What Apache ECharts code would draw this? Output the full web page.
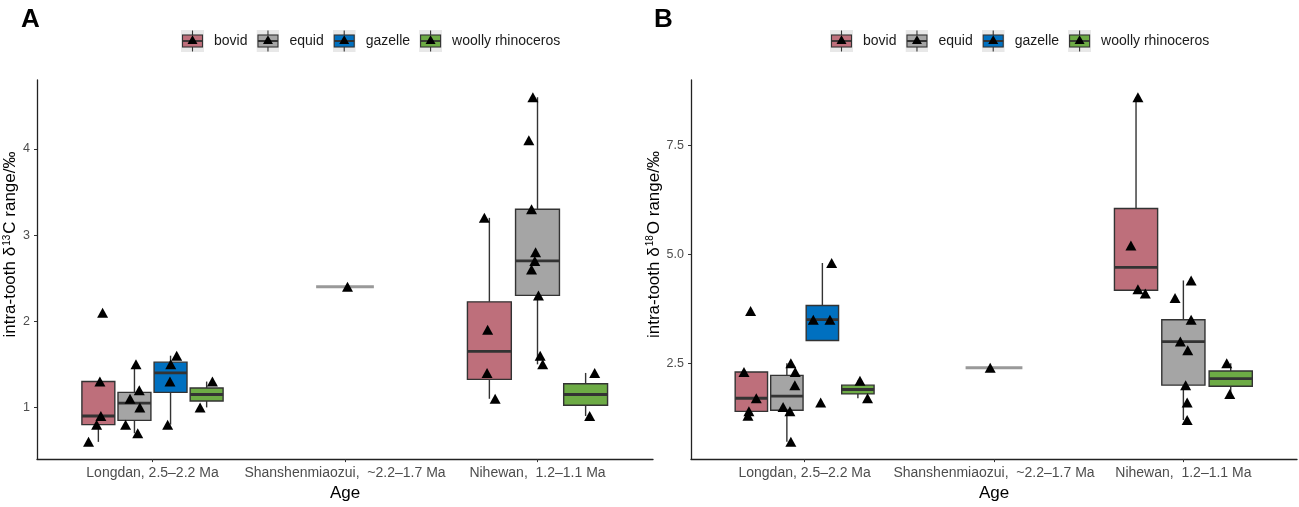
<!DOCTYPE html>
<html>
<head>
<meta charset="utf-8">
<script src="https://cdn.jsdelivr.net/npm/echarts@6/dist/echarts.min.js"></script>
<style>
html,body{margin:0;padding:0;background:#fff;}
#chart{width:1299px;height:507px;}
</style>
</head>
<body>
<div id="chart"></div>
<script>
// ---------- data ----------
const categories = ['Longdan, 2.5\u20132.2 Ma', 'Shanshenmiaozui,  ~2.2\u20131.7 Ma', 'Nihewan,  1.2\u20131.1 Ma'];
const species = ['bovid', 'equid', 'gazelle', 'woolly rhinoceros'];
const yTicksC = [1, 2, 3, 4];
const yTicksO = [2.5, 5.0, 7.5];

// box stats per category: [lower whisker, Q1, median, Q3, upper whisker]
const bovidBoxC   = [[0.6, 0.8, 0.9, 1.3, 1.3], null, [1.1, 1.325, 1.65, 2.225, 3.2]];
const equidBoxC   = [[0.7, 0.85, 1.05, 1.175, 1.5], [2.4, 2.4, 2.4, 2.4, 2.4], [1.5, 2.3, 2.7, 3.3, 4.6]];
const gazelleBoxC = [[0.8, 1.175, 1.4, 1.525, 1.6], null, null];
const rhinoBoxC   = [[1.0, 1.075, 1.15, 1.225, 1.3], null, [0.9, 1.025, 1.15, 1.275, 1.4]];

const bovidPtsC   = [[2.1, 1.3, 0.9, 0.8, 0.6], [], [3.2, 1.9, 1.4, 1.1]];
const equidPtsC   = [[1.5, 1.2, 1.1, 1.0, 0.8, 0.7], [2.4], [4.6, 4.1, 3.3, 2.8, 2.7, 2.6, 2.3, 1.6, 1.5]];
const gazellePtsC = [[1.6, 1.5, 1.3, 0.8], [], []];
const rhinoPtsC   = [[1.3, 1.0], [], [1.4, 0.9]];

const bovidBoxO   = [[1.3, 1.4, 1.7, 2.3, 2.3], null, [4.1, 4.175, 4.7, 6.05, 8.6]];
const equidBoxO   = [[0.7, 1.425, 1.75, 2.225, 2.5], [2.4, 2.4, 2.4, 2.4, 2.4], [1.2, 2.0, 3.0, 3.5, 4.4]];
const gazelleBoxO = [[3.025, 3.025, 3.5, 3.825, 4.8], null, null];
const rhinoBoxO   = [[1.7, 1.8, 1.9, 2.0, 2.1], null, [1.8, 1.975, 2.15, 2.325, 2.5]];

const bovidPtsO   = [[3.7, 2.3, 1.7, 1.4, 1.3], [], [8.6, 5.2, 4.2, 4.1]];
const equidPtsO   = [[2.5, 2.3, 2.0, 1.5, 1.4, 0.7], [2.4], [4.4, 4.0, 3.5, 3.0, 2.8, 2.0, 1.6, 1.2]];
const gazellePtsO = [[4.8, 3.5, 3.5, 1.6], [], []];
const rhinoPtsO   = [[2.1, 1.7], [], [2.5, 1.8]];

// horizontal jitter of the points (category units)
const bovidJitC   = [[0.022, 0.008, 0.013, -0.009, -0.051], [], [-0.026, -0.009, -0.012, 0.030]];
const equidJitC   = [[0.008, 0.025, -0.023, 0.028, -0.046, 0.017], [0.013], [-0.024, -0.045, -0.031, -0.010, -0.014, -0.031, 0.005, 0.014, 0.027]];
const gazelleJitC = [[0.032, 0.001, -0.003, -0.015], [], []];
const rhinoJitC   = [[0.030, -0.034], [], [0.047, 0.021]];
const bovidJitO   = [[-0.004, -0.039, 0.026, -0.013, -0.018], [], [0.010, -0.027, 0.010, 0.049]];
const equidJitO   = [[0.021, 0.044, 0.042, -0.020, 0.016, 0.021], [-0.02], [0.041, -0.044, 0.041, -0.016, 0.023, 0.012, 0.020, 0.020]];
const gazelleJitO = [[0.049, -0.048, 0.040, -0.009], [], []];
const rhinoJitO   = [[0.011, 0.051], [], [-0.021, -0.005]];

// ---------- styles ----------
const colors = ['#BE6F7B', '#A5A5A5', '#0070C0', '#6DAB45'];
const boxW = {1: 0.3, 2: 0.4, 3: 0.228, 4: 0.171};
const DODGE = 0.75;
const FONT = '"Liberation Sans", Arial, Helvetica, sans-serif';

const panels = [
  {boxes: [bovidBoxC, equidBoxC, gazelleBoxC, rhinoBoxC],
   pts: [bovidPtsC, equidPtsC, gazellePtsC, rhinoPtsC],
   jit: [bovidJitC, equidJitC, gazelleJitC, rhinoJitC]},
  {boxes: [bovidBoxO, equidBoxO, gazelleBoxO, rhinoBoxO],
   pts: [bovidPtsO, equidPtsO, gazellePtsO, rhinoPtsO],
   jit: [bovidJitO, equidJitO, gazelleJitO, rhinoJitO]}
];

function slotOf(boxes, s, c) {
  const present = boxes.map((b, i) => (b[c] ? i : -1)).filter(i => i >= 0);
  const n = present.length;
  const k = present.indexOf(s);
  return {off: (k - (n - 1) / 2) * DODGE / n, hw: boxW[n] / 2};
}

function keyIcon(color) {
  const svg = '<svg xmlns="http://www.w3.org/2000/svg" width="92" height="88" viewBox="0 0 23 22">' +
    '<rect width="23" height="22" fill="#E8E8E8"/>' +
    '<line x1="11.5" y1="0.5" x2="11.5" y2="21.5" stroke="#333" stroke-width="1.1"/>' +
    '<rect x="1.5" y="5" width="20" height="12" fill="' + color + '" stroke="#333" stroke-width="1.1"/>' +
    '<line x1="1.5" y1="11" x2="21.5" y2="11" stroke="#333" stroke-width="1.8"/>' +
    '<polygon points="11.5,5.3 16.5,14 6.5,14" fill="#000"/></svg>';
  return 'image://data:image/svg+xml;charset=utf-8,' + encodeURIComponent(svg);
}

function makeRender(color, slots) {
  return function (params, api) {
    const sl = slots[params.dataIndex];
    const xc = api.value(0) + sl.off;
    const lo = api.value(1), q1 = api.value(2), md = api.value(3), q3 = api.value(4), hi = api.value(5);
    const pc = api.coord([xc, md]);
    const pl = api.coord([xc - sl.hw, q3]);
    const pr = api.coord([xc + sl.hw, q1]);
    const plo = api.coord([xc, lo]);
    const phi = api.coord([xc, hi]);
    const stroke = '#333';
    const children = [];
    if (q3 > q1) {
      children.push({type: 'line', shape: {x1: pc[0], y1: pl[1], x2: pc[0], y2: phi[1]}, style: {stroke: stroke, lineWidth: 1.4}});
      children.push({type: 'line', shape: {x1: pc[0], y1: pr[1], x2: pc[0], y2: plo[1]}, style: {stroke: stroke, lineWidth: 1.4}});
      children.push({type: 'rect', shape: {x: pl[0], y: pl[1], width: pr[0] - pl[0], height: pr[1] - pl[1]},
        style: {fill: color, stroke: stroke, lineWidth: 1.4}});
      children.push({type: 'line', shape: {x1: pl[0], y1: pc[1], x2: pr[0], y2: pc[1]}, style: {stroke: stroke, lineWidth: 2.8}});
    } else {
      children.push({type: 'line', shape: {x1: pl[0], y1: pc[1], x2: pr[0], y2: pc[1]}, style: {stroke: '#999', lineWidth: 3}});
    }
    return {type: 'group', children: children};
  };
}

const series = [];
panels.forEach((p, pi) => {
  species.forEach((name, s) => {
    const data = [], slots = [];
    p.boxes[s].forEach((b, c) => {
      if (b) { data.push([c + 1].concat(b)); slots.push(slotOf(p.boxes, s, c)); }
    });
    series.push({
      type: 'custom', name: name, xAxisIndex: pi, yAxisIndex: pi, z: 2,
      renderItem: makeRender(colors[s], slots),
      encode: {x: 0, y: [1, 2, 3, 4, 5]},
      data: data
    });
  });
  species.forEach((name, s) => {
    const data = [];
    p.pts[s].forEach((vals, c) => {
      if (!vals.length) return;
      const sl = slotOf(p.boxes, s, c);
      vals.forEach((v, j) => data.push([c + 1 + sl.off + p.jit[s][c][j], v]));
    });
    series.push({
      type: 'scatter', name: name, xAxisIndex: pi, yAxisIndex: pi, z: 5,
      symbol: 'triangle', symbolSize: [11, 10],
      itemStyle: {color: '#000', opacity: 1},
      data: data
    });
  });
});

function xAxisCfg(gi) {
  return {
    type: 'value', gridIndex: gi, min: 0.4, max: 3.6,
    name: 'Age', nameLocation: 'middle', nameGap: 24,
    nameTextStyle: {fontFamily: FONT, fontSize: 17, color: '#000'},
    axisLine: {show: true, lineStyle: {color: '#222', width: 1.3}},
    axisTick: {show: true, length: 3, lineStyle: {color: '#333'}, customValues: [1, 2, 3]},
    axisLabel: {fontFamily: FONT, fontSize: 14, color: '#4D4D4D', margin: 7,
      customValues: [1, 2, 3], formatter: v => categories[Math.round(v) - 1] || ''},
    splitLine: {show: false}
  };
}
function yAxisCfg(gi, min, max, ticks, fmt, nameRich, nameGap) {
  return {
    type: 'value', gridIndex: gi, min: min, max: max,
    name: nameRich, nameLocation: 'middle', nameGap: nameGap, nameRotate: 90,
    nameTextStyle: {fontFamily: FONT, fontSize: 17, color: '#000', padding: [0, 0, 0, 50],
      rich: {a: {fontFamily: FONT, fontSize: 17, color: '#000'},
             s: {fontFamily: FONT, fontSize: 10, color: '#000', verticalAlign: 'top', padding: [0, 1, 0, 1]}}},
    axisLine: {show: true, lineStyle: {color: '#222', width: 1.3}},
    axisTick: {show: true, length: 3, lineStyle: {color: '#333'}, customValues: ticks},
    axisLabel: {fontFamily: FONT, fontSize: 12.5, color: '#4D4D4D', margin: 7,
      customValues: ticks, formatter: fmt},
    splitLine: {show: false}
  };
}

const legendData = species.map((n, i) => ({name: n, icon: keyIcon(colors[i])}));
function legendCfg(left) {
  return {
    left: left, top: 30, orient: 'horizontal', selectedMode: false,
    itemWidth: 23, itemHeight: 22, itemGap: 9, padding: 0,
    textStyle: {fontFamily: FONT, fontSize: 14, color: '#1a1a1a', padding: [0, 0, 0, 5]},
    data: legendData
  };
}

const option = {
  animation: false,
  backgroundColor: '#fff',
  title: [
    {text: 'A', left: 16, top: 2, textStyle: {fontFamily: FONT, fontSize: 26, fontWeight: 'bold', color: '#000'}},
    {text: 'B', left: 649, top: 2, textStyle: {fontFamily: FONT, fontSize: 26, fontWeight: 'bold', color: '#000'}}
  ],
  legend: [legendCfg(181), legendCfg(830)],
  grid: [
    {left: 37, right: 1299 - 653, top: 80, bottom: 44},
    {left: 691, right: 2, top: 80, bottom: 45}
  ],
  xAxis: [xAxisCfg(0), xAxisCfg(1)],
  yAxis: [
    yAxisCfg(0, 0.4, 4.8, yTicksC, v => String(v), '{a|intra-tooth \u03b4}{s|13}{a|C range/\u2030}', 16),
    yAxisCfg(1, 0.305, 8.995, yTicksO, v => v.toFixed(1), '{a|intra-tooth \u03b4}{s|18}{a|O range/\u2030}', 27)
  ],
  series: series
};

const chart = echarts.init(document.getElementById('chart'), null, {renderer: 'canvas'});
chart.setOption(option);
</script>
</body>
</html>
